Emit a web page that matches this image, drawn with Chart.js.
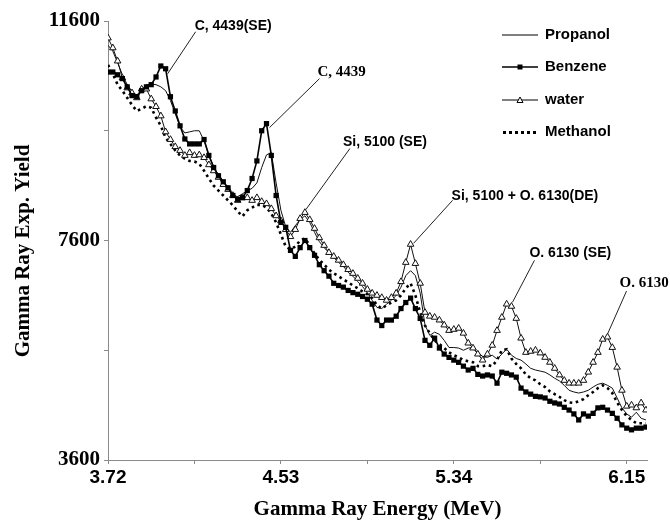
<!DOCTYPE html>
<html>
<head>
<meta charset="utf-8">
<script src="https://cdn.jsdelivr.net/npm/chart.js@4.4.1/dist/chart.umd.min.js"></script>
<style>
  body { margin: 0; background: #fff; }
  canvas { display: block; }
</style>
</head>
<body>
<canvas id="chart" width="670" height="520"></canvas>
<script>
// gamma ray energy of each channel (MeV)
const energies = [
  3.72, 3.7425, 3.765, 3.7875, 3.81, 3.8325, 3.855, 3.8775, 3.9, 3.9225,
  3.945, 3.9675, 3.99, 4.0125, 4.035, 4.0575, 4.08, 4.1025, 4.125, 4.1475,
  4.17, 4.1925, 4.215, 4.2375, 4.26, 4.2825, 4.305, 4.3275, 4.35, 4.3725,
  4.395, 4.4175, 4.44, 4.4625, 4.485, 4.5075, 4.53, 4.5525, 4.575, 4.5975,
  4.62, 4.6425, 4.665, 4.6875, 4.71, 4.7325, 4.755, 4.7775, 4.8, 4.8225,
  4.845, 4.8675, 4.89, 4.9125, 4.935, 4.9575, 4.98, 5.0025, 5.025, 5.0475,
  5.07, 5.0925, 5.115, 5.1375, 5.16, 5.1825, 5.205, 5.2275, 5.25, 5.2725,
  5.295, 5.3175, 5.34, 5.3625, 5.385, 5.4075, 5.43, 5.4525, 5.475, 5.4975,
  5.52, 5.5425, 5.565, 5.5875, 5.61, 5.6325, 5.655, 5.6775, 5.7, 5.7225,
  5.745, 5.7675, 5.79, 5.8125, 5.835, 5.8575, 5.88, 5.9025, 5.925, 5.9475,
  5.97, 5.9925, 6.015, 6.0375, 6.06, 6.0825, 6.105, 6.1275, 6.15, 6.1725,
  6.195, 6.2175, 6.24
];

// experimental yields
const propanol = [
  11160, 11050, 10840, 10620, 10440, 10310, 10250, 10350, 10440, 10450,
  10440, 10400, 10330, 10150, 9910, 9670, 9560, 9580, 9600, 9600,
  9420, 9160, 8950, 8780, 8650, 8530, 8420, 8400, 8450, 8510,
  8550, 8650, 8930, 9160, 9200, 8650, 8150, 7850, 7750, 7870,
  7980, 8050, 7930, 7750, 7580, 7470, 7380, 7290, 7200, 7130,
  7020, 6950, 6850, 6760, 6650, 6510, 6380, 6360, 6440, 6510,
  6600, 6750, 6960, 7050, 6960, 6640, 6060, 5870, 5930, 5890,
  5780, 5650, 5650, 5640, 5600, 5640, 5650, 5550, 5490, 5470,
  5510, 5440, 5530, 5620, 5510, 5450, 5420, 5350, 5270, 5240,
  5220, 5200, 5150, 5090, 5040, 4960, 4870, 4840, 4820, 4840,
  4870, 4930, 4980, 5000, 4960, 4910, 4730, 4550, 4440, 4380,
  4470, 4360, 4330
];
const benzene = [
  10670, 10670, 10620, 10550, 10400, 10240, 10220, 10330, 10400, 10440,
  10580, 10780, 10730, 10220, 9960, 9690, 9450, 9360, 9360, 9360,
  9440, 9150, 8930, 8780, 8670, 8560, 8420, 8350, 8380, 8510,
  8730, 9050, 9600, 9730, 9150, 8420, 7930, 7840, 7420, 7310,
  7470, 7600, 7470, 7330, 7160, 7050, 6950, 6820, 6780, 6750,
  6690, 6650, 6620, 6580, 6530, 6440, 6150, 6050, 6150, 6150,
  6220, 6360, 6470, 6550, 6360, 6180, 5780, 5690, 5820, 5640,
  5530, 5470, 5420, 5380, 5310, 5240, 5270, 5160, 5130, 5150,
  5130, 5000, 5200, 5180, 5150, 5110, 4910, 4840, 4800, 4760,
  4750, 4730, 4670, 4640, 4620, 4560, 4510, 4440, 4330, 4440,
  4400, 4450, 4550, 4560, 4510, 4450, 4360, 4240, 4180, 4150,
  4180, 4180, 4200
];
const water = [
  11290, 11110, 10870, 10560, 10380, 10290, 10200, 10360, 10360, 10180,
  10040, 9870, 9580, 9440, 9310, 9240, 9150, 9200, 9150, 9160,
  9110, 8980, 8870, 8750, 8620, 8530, 8420, 8330, 8380, 8380,
  8330, 8380, 8310, 8270, 8180, 8050, 7960, 7800, 7670, 7800,
  8000, 8110, 7980, 7820, 7650, 7510, 7380, 7310, 7240, 7160,
  7070, 7000, 6910, 6820, 6710, 6640, 6600, 6560, 6510, 6560,
  6640, 6850, 7200, 7530, 7180, 6820, 6290, 6220, 6200, 6150,
  6060, 5960, 5980, 6000, 5910, 5730, 5640, 5530, 5420, 5530,
  5690, 5960, 6200, 6440, 6400, 6180, 5820, 5560, 5580, 5600,
  5550, 5470, 5380, 5270, 5150, 5050, 5000, 5000, 5000, 5050,
  5200, 5380, 5560, 5800, 5840, 5650, 5290, 4870, 4580, 4600,
  4550, 4640, 4510
];
const methanol = [
  10800, 10640, 10440, 10330, 10200, 10070, 9960, 10000, 10050, 10020,
  9840, 9690, 9470, 9360, 9240, 9150, 9090, 9050, 9040, 9000,
  8870, 8730, 8600, 8510, 8420, 8330, 8240, 8130, 8040, 8150,
  8200, 8250, 8250, 8200, 8090, 7930, 7710, 7490, 7440, 7490,
  7600, 7640, 7510, 7360, 7250, 7160, 7070, 7000, 6950, 6890,
  6840, 6780, 6730, 6670, 6620, 6550, 6420, 6360, 6420, 6470,
  6510, 6600, 6730, 6820, 6600, 6290, 6050, 5910, 5780, 5710,
  5640, 5560, 5510, 5470, 5420, 5400, 5380, 5310, 5310, 5330,
  5310, 5420, 5600, 5620, 5450, 5350, 5270, 5160, 5090, 5050,
  4980, 4930, 4850, 4800, 4750, 4690, 4650, 4640, 4670, 4710,
  4780, 4840, 4910, 4960, 4910, 4820, 4650, 4510, 4400, 4330,
  4270, 4270, 4270
];

// axis ticks (empty label = minor tick)
const xTicks = [3.72, 4.125, 4.53, 4.935, 5.34, 5.745, 6.15];
const xLabels = ['3.72', '', '4.53', '', '5.34', '', '6.15'];
const yTicks = [3600, 5600, 7600, 9600, 11600];
const yLabels = ['3600', '', '7600', '', '11600'];

const seriesNames = ['Propanol', 'Benzene', 'water', 'Methanol'];

// peak labels: which point the leader line touches, and where the text goes
const peaks = [
  { text: 'C, 4439(SE)', data: benzene, idx: 12, end: [2, 5], top: [30, -37], txt: [-1, -6], serif: false },
  { text: 'C, 4439', data: benzene, idx: 33, end: [3, 4], top: [53, -45], txt: [-2, -6], serif: true },
  { text: 'Si, 5100 (SE)', data: water, idx: 41, end: [1, -3], top: [45, -64], txt: [-7, -6], serif: false },
  { text: 'Si, 5100 + O. 6130(DE)', data: water, idx: 63, end: [3, -1], top: [42, -44], txt: [-1, -4], serif: false },
  { text: 'O. 6130 (SE)', data: water, idx: 84, end: [1, -4], top: [23, -46], txt: [-5, -7], serif: false },
  { text: 'O. 6130', data: water, idx: 104, end: [0, -3], top: [19, -46], txt: [-7, -8], serif: true }
];

const toPoints = vals => energies.map((e, i) => ({ x: e, y: vals[i] }));

const peakLabels = {
  id: 'peakLabels',
  afterDatasetsDraw(chart) {
    const ctx = chart.ctx;
    const xs = chart.scales.x, ys = chart.scales.y;
    ctx.save();
    peaks.forEach(p => {
      const px = xs.getPixelForValue(energies[p.idx]);
      const py = ys.getPixelForValue(p.data[p.idx]);
      const x1 = px + p.end[0], y1 = py + p.end[1];
      const x2 = px + p.top[0], y2 = py + p.top[1];
      ctx.strokeStyle = '#222';
      ctx.lineWidth = 1;
      ctx.beginPath();
      ctx.moveTo(x1, y1);
      ctx.lineTo(x2, y2);
      ctx.stroke();
      ctx.fillStyle = '#000';
      ctx.font = p.serif ? 'bold 15px "Liberation Serif", serif' : 'bold 14px "Liberation Sans", Arial, sans-serif';
      ctx.textAlign = 'left';
      ctx.textBaseline = 'middle';
      ctx.fillText(p.text, x2 + p.txt[0], y2 + p.txt[1]);
    });
    ctx.restore();
  }
};

// legend drawn inside the plot, top right
const legendBox = {
  id: 'legendBox',
  afterDraw(chart) {
    const ctx = chart.ctx;
    const x0 = 502, x1 = 538, tx = 545;
    const rows = [35, 67, 100, 132];
    ctx.save();
    ctx.strokeStyle = '#000';
    ctx.fillStyle = '#000';
    rows.forEach((y, i) => {
      const name = seriesNames[i];
      ctx.lineWidth = 1;
      if (name === 'Methanol') {
        for (let x = x0 + 1; x < x1; x += 6) ctx.fillRect(x, y - 1, 3, 3);
      } else {
        ctx.lineWidth = name === 'Benzene' ? 1.5 : 1;
        ctx.beginPath();
        ctx.moveTo(x0, y);
        ctx.lineTo(x1, y);
        ctx.stroke();
      }
      const cx = (x0 + x1) / 2;
      if (name === 'Benzene') {
        ctx.fillRect(cx - 2.5, y - 2.5, 5, 5);
      } else if (name === 'water') {
        ctx.fillStyle = '#fff';
        ctx.lineWidth = 1;
        ctx.beginPath();
        ctx.moveTo(cx, y - 3);
        ctx.lineTo(cx + 3, y + 2.5);
        ctx.lineTo(cx - 3, y + 2.5);
        ctx.closePath();
        ctx.fill();
        ctx.stroke();
        ctx.fillStyle = '#000';
      }
      ctx.font = 'bold 15px "Liberation Sans", Arial, sans-serif';
      ctx.textAlign = 'left';
      ctx.textBaseline = 'middle';
      ctx.fillText(name, tx, y);
    });
    ctx.restore();
  }
};

const axisColor = '#8a8a8a';

new Chart(document.getElementById('chart'), {
  type: 'line',
  data: {
    datasets: [
      {
        label: 'Benzene',
        data: toPoints(benzene),
        borderColor: '#000',
        borderWidth: 1.6,
        pointStyle: 'rect',
        pointRadius: 3.7,
        pointBackgroundColor: '#000',
        pointBorderColor: '#000',
        pointBorderWidth: 0,
        tension: 0
      },
      {
        label: 'water',
        data: toPoints(water),
        borderColor: '#111',
        borderWidth: 1,
        pointStyle: 'triangle',
        pointRadius: 3.8,
        pointBackgroundColor: '#fff',
        pointBorderColor: '#111',
        pointBorderWidth: 1,
        tension: 0
      },
      {
        label: 'Propanol',
        data: toPoints(propanol),
        borderColor: '#111',
        borderWidth: 1,
        pointRadius: 0,
        tension: 0
      },
      {
        label: 'Methanol',
        data: toPoints(methanol),
        borderColor: '#000',
        borderWidth: 2.6,
        borderDash: [2.6, 3.6],
        borderCapStyle: 'butt',
        pointRadius: 0,
        tension: 0
      }
    ]
  },
  options: {
    responsive: false,
    animation: false,
    events: [],
    layout: { padding: { top: 21, right: 23, bottom: 0, left: 0 } },
    plugins: {
      legend: { display: false },
      tooltip: { enabled: false }
    },
    scales: {
      x: {
        type: 'linear',
        min: 3.72,
        max: 6.245,
        afterBuildTicks: s => { s.ticks = xTicks.map(v => ({ value: v })); },
        afterFit: s => { s.height = 60; },
        border: { display: true, color: axisColor, width: 1 },
        grid: { drawOnChartArea: false, drawTicks: true, tickLength: 4, color: axisColor },
        ticks: {
          autoSkip: false,
          maxRotation: 0,
          padding: 2,
          color: '#000',
          font: { family: '"Liberation Sans", Arial, sans-serif', size: 19, weight: 'bold' },
          callback: (v, i) => xLabels[i]
        },
        title: {
          display: true,
          text: 'Gamma Ray Energy (MeV)',
          color: '#000',
          padding: { top: 0, bottom: 0 },
          font: { family: '"Liberation Serif", "Times New Roman", serif', size: 21, weight: 'bold', lineHeight: 1 }
        }
      },
      y: {
        min: 3600,
        max: 11600,
        afterBuildTicks: s => { s.ticks = yTicks.map(v => ({ value: v })); },
        afterFit: s => { s.width = 108; },
        border: { display: true, color: axisColor, width: 1 },
        grid: { drawOnChartArea: false, drawTicks: true, tickLength: 4, color: axisColor },
        ticks: {
          padding: 4,
          color: '#000',
          font: { family: '"Liberation Serif", "Times New Roman", serif', size: 21, weight: 'bold' },
          callback: (v, i) => yLabels[i]
        },
        title: {
          display: true,
          text: 'Gamma Ray Exp. Yield    ',
          color: '#000',
          padding: { top: 13, bottom: 0 },
          font: { family: '"Liberation Serif", "Times New Roman", serif', size: 21, weight: 'bold', lineHeight: 1 }
        }
      }
    }
  },
  plugins: [peakLabels, legendBox]
});
</script>
</body>
</html>
